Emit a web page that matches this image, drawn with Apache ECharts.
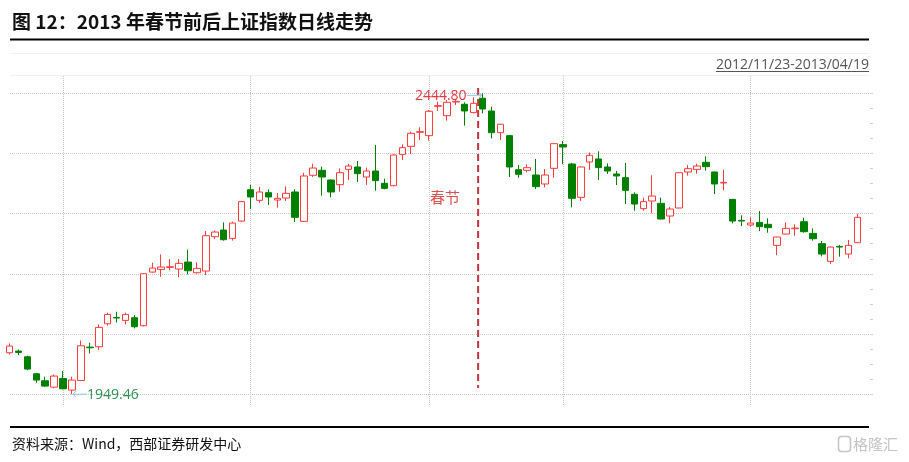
<!DOCTYPE html>
<html><head><meta charset="utf-8">
<script src="https://cdn.jsdelivr.net/npm/echarts@6/dist/echarts.min.js"></script>
<style>html,body{margin:0;padding:0;background:#fff}#c{width:909px;height:462px}</style>
</head><body><div id="c"></div>
<script>
const dates = [
 '2012-11-23','2012-11-26','2012-11-27','2012-11-28','2012-11-29','2012-11-30',
 '2012-12-03','2012-12-04','2012-12-05','2012-12-06','2012-12-07','2012-12-10','2012-12-11','2012-12-12','2012-12-13','2012-12-14',
 '2012-12-17','2012-12-18','2012-12-19','2012-12-20','2012-12-21','2012-12-24','2012-12-25','2012-12-26','2012-12-27','2012-12-28','2012-12-31',
 '2013-01-04','2013-01-07','2013-01-08','2013-01-09','2013-01-10','2013-01-11','2013-01-14','2013-01-15','2013-01-16','2013-01-17','2013-01-18',
 '2013-01-21','2013-01-22','2013-01-23','2013-01-24','2013-01-25','2013-01-28','2013-01-29','2013-01-30','2013-01-31',
 '2013-02-01','2013-02-04','2013-02-05','2013-02-06','2013-02-07','2013-02-08','2013-02-18','2013-02-19','2013-02-20','2013-02-21','2013-02-22',
 '2013-02-25','2013-02-26','2013-02-27','2013-02-28',
 '2013-03-01','2013-03-04','2013-03-05','2013-03-06','2013-03-07','2013-03-08','2013-03-11','2013-03-12','2013-03-13','2013-03-14','2013-03-15',
 '2013-03-18','2013-03-19','2013-03-20','2013-03-21','2013-03-22','2013-03-25','2013-03-26','2013-03-27','2013-03-28','2013-03-29',
 '2013-04-01','2013-04-02','2013-04-03','2013-04-08','2013-04-09','2013-04-10','2013-04-11','2013-04-12','2013-04-15','2013-04-16','2013-04-17','2013-04-18','2013-04-19'
];
const opens = [2017.7,2020.4,2011.1,1983.1,1971.6,1961.1,1975.4,1956.2,1972.1,2027.0,
 2027.6,2065.4,2075.9,2070.9,2075.3,2062.2,2150.5,2154.9,2158.2,2155.5,
 2167.0,2149.4,2152.2,2208.7,2219.7,2206.0,2234.5,2286.1,2268.6,2281.2,
 2269.1,2272.4,2282.3,2234.0,2309.8,2318.0,2302.1,2294.4,2319.6,2323.5,
 2307.0,2316.9,2296.6,2292.7,2344.3,2357.5,2380.6,2375.1,2423.4,2408.0,
 2430.5,2426.7,2413.0,2436.6,2415.7,2380.0,2375.1,2319.1,2318.0,2310.3,
 2295.5,2321.3,2360.3,2328.4,2273.5,2331.7,2336.7,2323.5,2312.0,2305.9,
 2278.5,2254.9,2267.5,2263.6,2242.8,2256.0,2315.2,2319.6,2331.2,2315.2,
 2297.1,2270.2,2235.6,2228.0,2232.3,2229.1,2194.5,2213.1,2221.9,2233.4,
 2214.2,2197.2,2168.1,2192.8,2180.2,2198.9];
const closes = [2028.7,2018.2,1990.8,1972.7,1962.8,1979.3,1958.4,1972.7,2029.2,2025.9,
 2059.4,2080.8,2074.8,2080.8,2060.5,2147.8,2157.1,2158.8,2159.3,2164.8,
 2152.7,2156.6,2210.4,2216.4,2203.8,2231.2,2266.4,2274.1,2282.3,2274.1,
 2271.9,2280.1,2240.6,2308.7,2321.8,2307.0,2282.3,2314.1,2325.1,2312.5,
 2316.9,2301.0,2288.3,2343.2,2355.3,2378.9,2381.7,2415.2,2424.5,2430.0,
 2431.6,2415.7,2428.3,2419.0,2380.0,2393.8,2323.5,2311.4,2322.4,2291.1,
 2310.3,2361.9,2356.4,2271.9,2323.5,2342.7,2322.4,2316.9,2308.7,2285.0,
 2262.5,2266.4,2275.7,2237.8,2254.3,2314.1,2320.7,2325.1,2324.0,2295.5,
 2298.2,2234.5,2234.5,2231.2,2225.2,2223.6,2208.2,2222.5,2223.0,2217.0,
 2205.4,2180.2,2191.7,2191.7,2194.5,2240.6];
const lows = [2014.9,2013.8,1989.1,1968.3,1961.7,1958.9,1957.3,1949.46,1971.0,2016.6,
 2022.1,2062.2,2067.6,2064.4,2057.8,2061.1,2149.4,2142.9,2153.3,2141.8,
 2146.7,2147.8,2145.6,2204.9,2202.2,2202.2,2233.4,2254.3,2264.7,2260.9,
 2256.5,2267.5,2232.9,2232.9,2307.0,2276.3,2273.5,2282.9,2302.1,2298.8,
 2293.8,2284.5,2286.7,2291.6,2335.0,2344.9,2367.9,2366.9,2415.7,2399.8,
 2425.6,2391.6,2411.9,2411.9,2370.7,2367.9,2307.0,2305.9,2314.7,2287.2,
 2290.0,2305.9,2327.9,2257.1,2267.5,2318.5,2302.1,2312.0,2293.8,2262.5,
 2251.6,2251.6,2247.2,2237.3,2230.7,2255.4,2309.2,2312.5,2317.4,2279.0,
 2285.0,2230.7,2226.3,2225.2,2218.1,2215.3,2178.5,2212.6,2210.4,2215.3,
 2202.2,2176.3,2163.7,2175.8,2173.1,2198.3];
const highs = [2033.1,2023.2,2012.7,1984.2,1978.2,1982.0,1987.5,1978.2,2038.0,2034.2,
 2064.4,2083.6,2085.2,2083.6,2079.7,2148.9,2165.9,2179.6,2172.0,2172.0,
 2187.3,2166.5,2218.1,2219.2,2232.3,2233.4,2267.5,2293.8,2290.5,2286.7,
 2280.7,2291.6,2286.7,2314.1,2329.0,2324.0,2303.2,2321.3,2328.4,2333.4,
 2322.4,2359.7,2304.3,2344.3,2360.8,2381.7,2388.8,2417.4,2431.1,2433.8,
 2435.5,2430.0,2438.2,2444.80,2422.8,2394.3,2375.6,2326.8,2327.9,2336.7,
 2320.2,2362.5,2366.3,2330.1,2324.6,2347.1,2349.3,2329.5,2316.9,2330.1,
 2281.8,2273.0,2309.8,2273.0,2257.6,2314.7,2326.8,2329.0,2341.0,2315.8,
 2319.1,2270.8,2243.9,2240.6,2251.0,2238.9,2208.7,2232.3,2229.1,2240.0,
 2222.5,2201.6,2192.8,2195.0,2203.2,2246.6];
const yMin = 1949.46, yMax = 2444.80;
const yStep = (yMax - yMin) / 5;
const titleText = '图 12：2013 年春节前后上证指数日线走势';
const rangeText = '2012/11/23-2013/04/19';
const sourceText = '资料来源：Wind，西部证券研发中心';
const festivalText = '春节';
const festivalAfterIdx = 53; // first trading day after the holiday
const maxIdx = 53, minIdx = 7;

const kData = opens.map((o, i) => [o, closes[i], lows[i], highs[i]]);
const gridColor = '#c8c8c8';

const chart = echarts.init(document.getElementById('c'), null, {renderer: 'canvas'});
chart.setOption({
  animation: false,
  backgroundColor: '#ffffff',
  grid: [
    {left: 9.5, right: 51.5, top: 93.3, bottom: 67.8},
    {left: 10, right: 39, top: 93.3, bottom: 67.8},
    {left: 9.5, right: 51.5, top: 76, bottom: 56}
  ],
  xAxis: [
    {type: 'category', gridIndex: 0, data: dates, boundaryGap: false, show: false},
    {type: 'value', gridIndex: 1, min: 0, max: 1, show: false},
    {type: 'category', gridIndex: 2, data: dates, boundaryGap: false,
      axisLine: {show: false}, axisTick: {show: false}, axisLabel: {show: false},
      splitLine: {show: true, interval: (i) => i > 0 && dates[i].slice(0, 7) !== dates[i - 1].slice(0, 7),
        lineStyle: {color: gridColor, type: 'dotted', width: 1}}}
  ],
  yAxis: [
    {type: 'value', gridIndex: 0, min: yMin, max: yMax, show: false, splitLine: {show: false}},
    {type: 'value', gridIndex: 1, min: yMin, max: yMax, interval: yStep, position: 'right',
      axisLine: {show: false, onZero: false}, axisLabel: {show: false},
      axisTick: {show: true, length: 3, inside: false, lineStyle: {color: '#d0d0d0'}},
      minorTick: {show: true, splitNumber: 4, length: 3, lineStyle: {color: '#d0d0d0'}},
      splitLine: {show: true, lineStyle: {color: gridColor, type: 'dotted', width: 1}}},
    {type: 'value', gridIndex: 2, min: 0, max: 1, show: false, splitLine: {show: false}}
  ],
  series: [{
    type: 'candlestick', xAxisIndex: 0, yAxisIndex: 0, data: kData, barWidth: 7, silent: true, clip: true,
    itemStyle: {color: '#ffffff', color0: '#008000', borderColor: '#ff3b3b', borderColor0: '#008000', borderWidth: 1}
  }]
});

const P = (i, v) => chart.convertToPixel({xAxisIndex: 0, yAxisIndex: 0}, [i, v]);
const pMax = P(maxIdx, highs[maxIdx]);
const pMin = P(minIdx, lows[minIdx]);
const pA = P(festivalAfterIdx - 1, yMax), pB = P(festivalAfterIdx, yMax);
const dashX = (pA[0] + pB[0]) / 2;
const dashTop = P(0, 2453.5)[1], dashBot = P(0, 1959.7)[1];
const pFest = P(49, 2274);

const ctx = document.createElement('canvas').getContext('2d');
ctx.font = '14px "Open Sans"';
const rangeW = ctx.measureText(rangeText).width;
const arrowColor = '#8cc4e4';
const g = [];
g.push({type: 'text', x: 12, y: 22, style: {text: titleText, fill: '#111', fontSize: 19, fontWeight: 'bold', fontFamily: '"Noto Sans CJK SC"', align: 'left', verticalAlign: 'middle'}});
g.push({type: 'line', shape: {x1: 10, y1: 39.5, x2: 869, y2: 39.5}, style: {stroke: '#000', lineWidth: 2}});
g.push({type: 'line', shape: {x1: 10, y1: 53.5, x2: 869, y2: 53.5}, style: {stroke: '#f0f0f0', lineWidth: 1}});
g.push({type: 'line', shape: {x1: 10, y1: 75.5, x2: 869, y2: 75.5}, style: {stroke: '#f0f0f0', lineWidth: 1}});
g.push({type: 'text', x: 869, y: 65, style: {text: rangeText, fill: '#555', fontSize: 14, fontFamily: '"Open Sans"', align: 'right', verticalAlign: 'middle'}});
g.push({type: 'line', shape: {x1: 869 - rangeW, y1: 71.5, x2: 869, y2: 71.5}, style: {stroke: '#555', lineWidth: 1}});
g.push({type: 'line', shape: {x1: 10, y1: 427, x2: 869, y2: 427}, style: {stroke: '#000', lineWidth: 2}});
g.push({type: 'text', x: 12, y: 444, style: {text: sourceText, fill: '#111', fontSize: 14, fontFamily: '"Noto Sans CJK SC"', align: 'left', verticalAlign: 'middle'}});
g.push({type: 'rect', shape: {x: 838.5, y: 436.5, width: 12, height: 15, r: 3}, style: {fill: 'none', stroke: '#c4c4c4', lineWidth: 1.5}});
g.push({type: 'text', x: 853, y: 444, style: {text: '格隆汇', fill: '#c4c4c4', fontSize: 15, fontFamily: '"Noto Sans CJK SC"', align: 'left', verticalAlign: 'middle'}});
// spring festival
g.push({type: 'line', shape: {x1: dashX, y1: dashTop, x2: dashX, y2: dashBot}, style: {stroke: '#c8323c', lineWidth: 2, lineDash: [7, 4]}});
g.push({type: 'text', x: pFest[0] - 2, y: pFest[1], style: {text: festivalText, fill: '#d9534f', fontSize: 15, fontFamily: '"Noto Sans CJK SC"', align: 'center', verticalAlign: 'middle'}});
// max label
const my = pMax[1] + 2;
g.push({type: 'polyline', shape: {points: [[pMax[0] - 16, my], [pMax[0] - 1, my]]}, style: {stroke: arrowColor, lineWidth: 1}});
g.push({type: 'polyline', shape: {points: [[pMax[0] - 4, my - 3], [pMax[0] - 1, my], [pMax[0] - 4, my + 3]]}, style: {stroke: arrowColor, lineWidth: 1, fill: 'none'}});
g.push({type: 'text', x: pMax[0] - 16, y: my + 1, style: {text: highs[maxIdx].toFixed(2), fill: '#e0393e', fontSize: 14, fontFamily: '"Open Sans"', align: 'right', verticalAlign: 'middle'}});
// min label
const ny = pMin[1];
g.push({type: 'polyline', shape: {points: [[pMin[0] + 1, ny], [pMin[0] + 15, ny]]}, style: {stroke: arrowColor, lineWidth: 1}});
g.push({type: 'polyline', shape: {points: [[pMin[0] + 4, ny - 3], [pMin[0] + 1, ny], [pMin[0] + 4, ny + 3]]}, style: {stroke: arrowColor, lineWidth: 1, fill: 'none'}});
g.push({type: 'text', x: pMin[0] + 15, y: ny + 1, style: {text: lows[minIdx].toFixed(2), fill: '#2e9050', fontSize: 14, fontFamily: '"Open Sans"', align: 'left', verticalAlign: 'middle'}});
chart.setOption({graphic: g});
</script>
</body></html>
